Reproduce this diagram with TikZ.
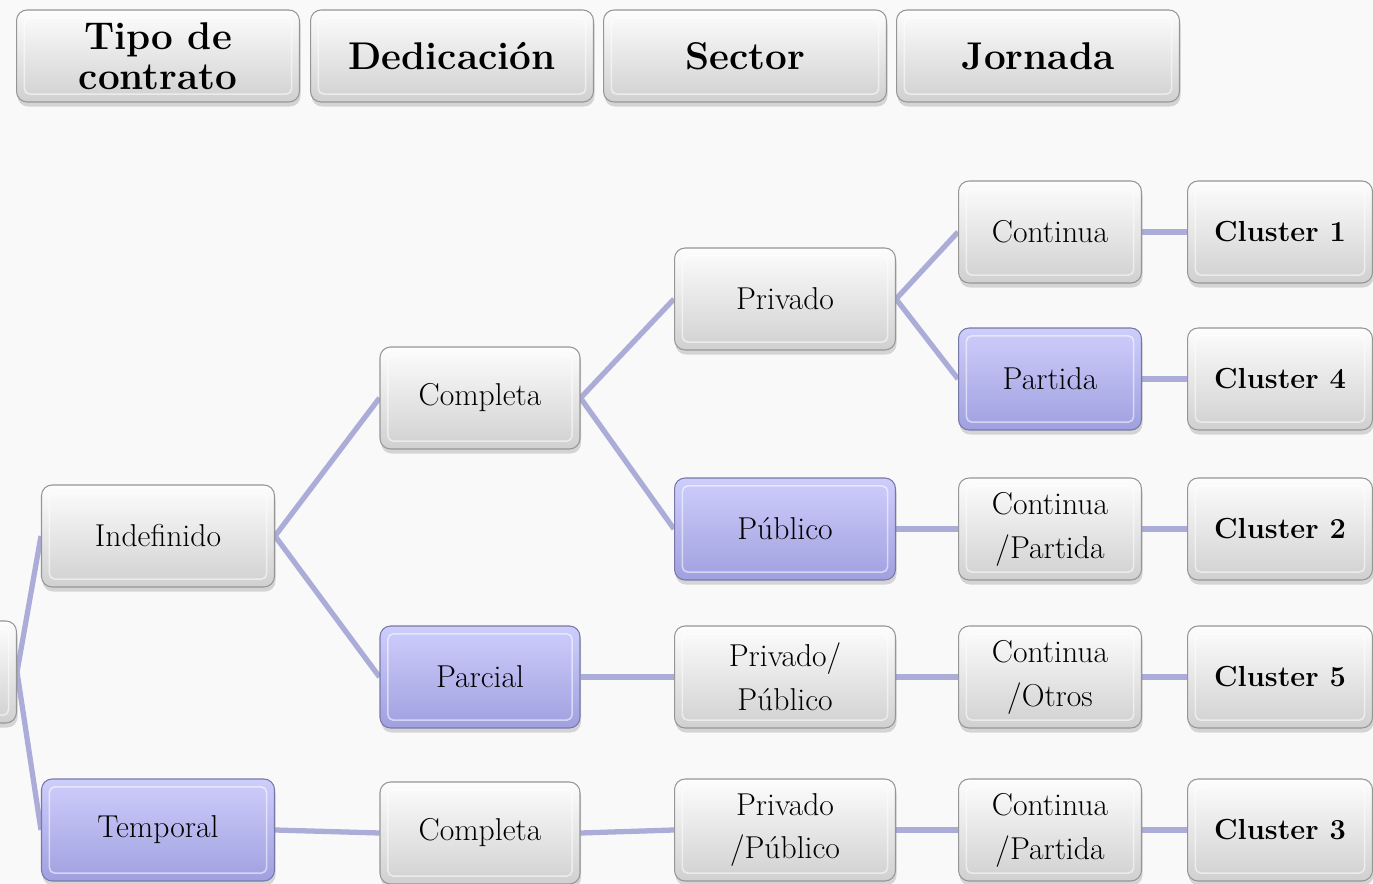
\documentclass[tikz,border=0pt]{standalone}
\usetikzlibrary{positioning, shadows, backgrounds}
\definecolor{boxLine}{RGB}{150,150,150}
\definecolor{greyTop}{RGB}{253,253,253}
\definecolor{greyBot}{RGB}{208,208,208}
\definecolor{lilaTop}{RGB}{206,206,252}
\definecolor{lilaBot}{RGB}{160,160,224}
\definecolor{linkLila}{RGB}{172,172,216}
\definecolor{bgGrey}{RGB}{249,249,249}
\tikzset{
	box/.style={shape=rectangle, rounded corners=6pt, draw=boxLine, line width=0.6pt,
		top color=greyTop, bottom color=greyBot, minimum width=4.66cm, minimum height=2.04cm,
		align=center, inner sep=2pt, font=\fontsize{18}{25}\selectfont,
		drop shadow={opacity=0.3, shadow xshift=0.6pt, shadow yshift=-2.6pt},
		path picture={\draw[white, line width=0.9pt, rounded corners=3pt, opacity=0.55]
			([shift={(4.5pt,-4.5pt)}]path picture bounding box.north west) rectangle
			([shift={(-4.5pt,4.5pt)}]path picture bounding box.south east);}},
	lila/.style={box, top color=lilaTop, bottom color=lilaBot, draw=lilaBot!75!black},
	head/.style={box, minimum width=5.66cm, minimum height=1.84cm, font=\bfseries\fontsize{22}{23}\selectfont},
	clus/.style={box, minimum width=3.7cm, font=\bfseries\fontsize{16.5}{20}\selectfont},
	link/.style={draw=linkLila, line width=3pt},
}
\begin{document}
\begin{tikzpicture}[x=0.02cm, y=-0.02cm]
	\useasboundingbox (0,0) rectangle (1373,884);
	\clip (0,0) rectangle (1373,884);
	\begin{scope}[on background layer]
		\fill[bgGrey] (0,0) rectangle (1373,884);
	\end{scope}

	% headers
	\node[head] (h1) at (158,56) {Tipo de\\contrato};
	\node[head] (h2) at (452,56) {Dedicación};
	\node[head] (h3) at (745,56) {Sector};
	\node[head] (h4) at (1038,56) {Jornada};

	% Tipo de contrato
	\node[box] (root) at (-100,672) {};
	\node[box] (indef) at (158,536) {Indefinido};
	\node[lila] (temp) at (158,830) {Temporal};

	% Dedicacion
	\node[box, minimum width=4cm] (comp1) at (480,398) {Completa};
	\node[lila, minimum width=4cm] (parc) at (480,677) {Parcial};
	\node[box, minimum width=4cm] (comp2) at (480,833) {Completa};

	% Sector
	\node[box, minimum width=4.42cm] (priv) at (785,299) {Privado};
	\node[lila, minimum width=4.42cm] (publ) at (785,529) {Público};
	\node[box, minimum width=4.42cm] (pp1) at (785,677) {Privado/\\Público};
	\node[box, minimum width=4.42cm] (pp2) at (785,830) {Privado\\/Público};

	% Jornada
	\node[box, minimum width=3.66cm] (cont) at (1050,232) {Continua};
	\node[lila, minimum width=3.66cm] (part) at (1050,379) {Partida};
	\node[box, minimum width=3.66cm] (cp1) at (1050,529) {Continua\\/Partida};
	\node[box, minimum width=3.66cm] (co) at (1050,677) {Continua\\/Otros};
	\node[box, minimum width=3.66cm] (cp2) at (1050,830) {Continua\\/Partida};

	% clusters
	\node[clus] (c1) at (1280,232) {Cluster 1};
	\node[clus] (c4) at (1280,379) {Cluster 4};
	\node[clus] (c2) at (1280,529) {Cluster 2};
	\node[clus] (c5) at (1280,677) {Cluster 5};
	\node[clus] (c3) at (1280,830) {Cluster 3};

	% connectors
	\begin{scope}[on background layer]
		\path[link] (root.east) edge (indef.west) (root.east) edge (temp.west);
		\path[link] (indef.east) edge (comp1.west) (indef.east) edge (parc.west);
		\path[link] (temp.east) edge (comp2.west);
		\path[link] (comp1.east) edge (priv.west) (comp1.east) edge (publ.west);
		\path[link] (parc.east) edge (pp1.west);
		\path[link] (comp2.east) edge (pp2.west);
		\path[link] (priv.east) edge (cont.west) (priv.east) edge (part.west);
		\path[link] (publ.east) edge (cp1.west);
		\path[link] (pp1.east) edge (co.west);
		\path[link] (pp2.east) edge (cp2.west);
		\path[link] (cont) edge (c1) (part) edge (c4) (cp1) edge (c2) (co) edge (c5) (cp2) edge (c3);
	\end{scope}
\end{tikzpicture}
\end{document}
